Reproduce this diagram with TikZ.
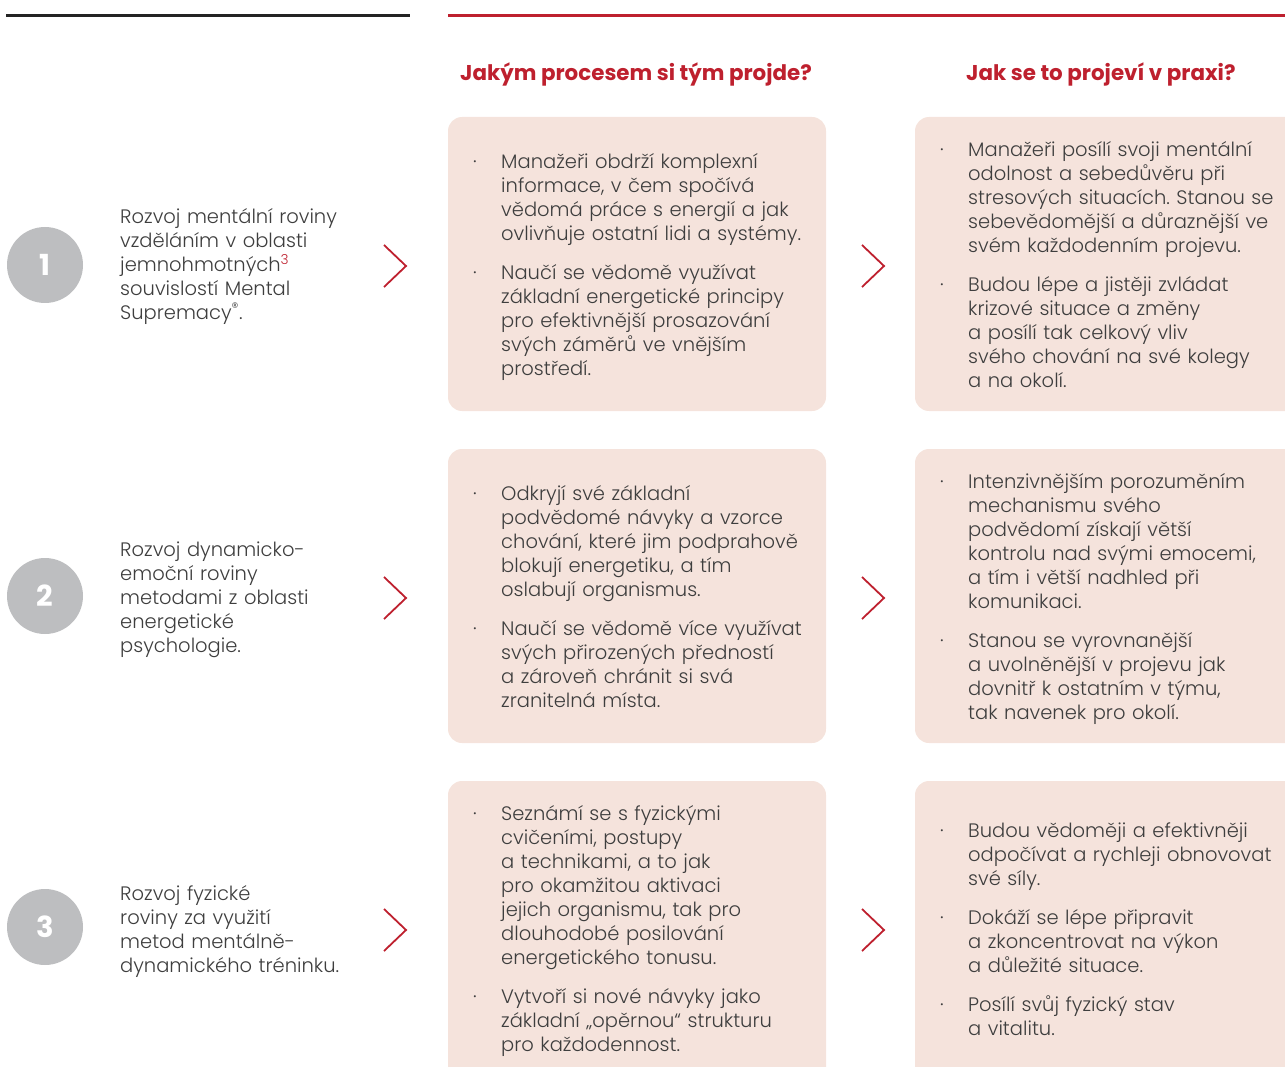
\documentclass[tikz,border=0pt]{standalone}
\usepackage{fontspec}
\setmainfont{Poppins}[UprightFont=* Light, BoldFont=* SemiBold]
\newfontfamily\headfont{Poppins}[UprightFont=* Bold]
\frenchspacing

\definecolor{brandred}{RGB}{190,32,46}
\definecolor{boxpink}{RGB}{245,227,220}
\definecolor{numgray}{RGB}{189,190,192}
\definecolor{txtgray}{RGB}{62,62,62}
\definecolor{rulegray}{RGB}{35,35,35}

\tikzset{
  box/.style={fill=boxpink, rounded corners=14pt},
  num/.style={circle, fill=numgray, minimum size=76pt, inner sep=0pt, text=white, font=\fontsize{29}{29}\selectfont\headfont},
  lead/.style={anchor=base west, text width=300pt, align=left, inner sep=0pt, text=txtgray, font=\fontsize{19.5}{24}\selectfont},
  itemtxt/.style={anchor=base west, text width=340pt, align=left, inner sep=0pt, text=txtgray, font=\fontsize{19.5}{24}\selectfont},
  head/.style={anchor=base west, inner sep=0pt, text=brandred, font=\fontsize{21.4}{24}\selectfont\headfont},
  chev/.style={draw=brandred, line width=1.8pt},
}

\newcommand{\bul}{\leavevmode\llap{\makebox[28pt][l]{·}}}
\newcommand{\nxt}{\par\vspace{15pt}\bul}

\begin{document}
\begin{tikzpicture}[x=1pt, y=-1pt]
        \useasboundingbox (0,0) rectangle (1285,1067);
        \clip (0,0) rectangle (1285,1067);

        \draw[rulegray, line width=2.5pt] (6,15.5) -- (410,15.5);
        \draw[brandred, line width=2.5pt] (448,15.5) -- (1290,15.5);

        \node[head] (h1) at (460,81) {Jakým procesem si tým projde?};
        \node[head] (h2) at (966,81) {Jak se to projeví v praxi?};

        \fill[box] (448,117) rectangle (826,411);
        \fill[box] (915,117) rectangle (1310,411);
        \fill[box] (448,449) rectangle (826,743);
        \fill[box] (915,449) rectangle (1310,743);
        \fill[box] (448,781) rectangle (826,1090);
        \fill[box] (915,781) rectangle (1310,1090);

        \node[num] (n1) at (45,265) {1};
        \node[num] (n2) at (45,596) {2};
        \node[num] (n3) at (45,927) {3};

        \node[lead] (r1) at (120,224) {Rozvoj mentální roviny\\vzděláním v oblasti\\jemnohmotných\textsuperscript{\color{brandred}3}\\souvislostí Mental\\Supremacy\textsuperscript{®}.};
        \node[lead] (r2) at (120,556) {Rozvoj dynamicko-\\emoční roviny\\metodami z oblasti\\energetické\\psychologie.};
        \node[lead] (r3) at (120,900) {Rozvoj fyzické\\roviny za využití\\metod mentálně-\\dynamického tréninku.};

        \foreach \y in {266,598,930} {
            \draw[chev] (384,\y-21) -- (406,\y) -- (384,\y+21);
            \draw[chev] (862,\y-21) -- (884,\y) -- (862,\y+21);
        }

        \node[itemtxt] (p1) at (501,169) {\bul Manažeři obdrží komplexní\\informace, v čem spočívá\\vědomá práce s energií a jak\\ovlivňuje ostatní lidi a systémy.\nxt Naučí se vědomě využívat\\základní energetické principy\\pro efektivnější prosazování\\svých záměrů ve vnějším\\prostředí.};
        \node[itemtxt] (q1) at (968,157) {\bul Manažeři posílí svoji mentální\\odolnost a sebedůvěru při\\stresových situacích. Stanou se\\sebevědomější a důraznější ve\\svém každodenním projevu.\nxt Budou lépe a jistěji zvládat\\krizové situace a změny\\a posílí tak celkový vliv\\svého chování na své kolegy\\a na okolí.};

        \node[itemtxt] (p2) at (501,500) {\bul Odkryjí své základní\\podvědomé návyky a vzorce\\chování, které jim podprahově\\blokují energetiku, a tím\\oslabují organismus.\nxt Naučí se vědomě více využívat\\svých přirozených předností\\a zároveň chránit si svá\\zranitelná místa.};
        \node[itemtxt] (q2) at (968,488) {\bul Intenzivnějším porozuměním\\mechanismu svého\\podvědomí získají větší\\kontrolu nad svými emocemi,\\a tím i větší nadhled při\\komunikaci.\nxt Stanou se vyrovnanější\\a uvolněnější v projevu jak\\dovnitř k ostatním v týmu,\\tak navenek pro okolí.};

        \node[itemtxt] (p3) at (501,820) {\bul Seznámí se s fyzickými\\cvičeními, postupy\\a technikami, a to jak\\pro okamžitou aktivaci\\jejich organismu, tak pro\\dlouhodobé posilování\\energetického tonusu.\nxt Vytvoří si nové návyky jako\\základní „opěrnou“ strukturu\\pro každodennost.};
        \node[itemtxt] (q3) at (968,837) {\bul Budou vědoměji a efektivněji\\odpočívat a rychleji obnovovat\\své síly.\nxt Dokáží se lépe připravit\\a zkoncentrovat na výkon\\a důležité situace.\nxt Posílí svůj fyzický stav\\a vitalitu.};

    \end{tikzpicture}
\end{document}
